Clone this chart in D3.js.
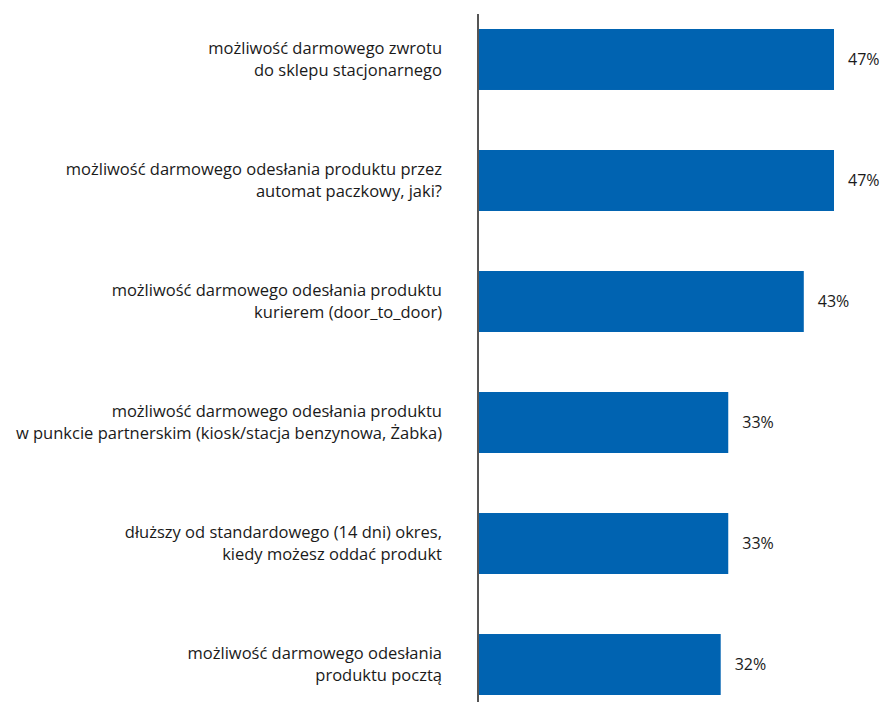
<!DOCTYPE html>
<html><head><meta charset="utf-8">
<script src="https://cdn.jsdelivr.net/npm/d3@7"></script>
<style>body{margin:0;background:#fff}svg{display:block}text{font-family:"Open Sans",sans-serif}</style>
</head><body>
<svg id="c" width="884" height="702"></svg>
<script>
const categories = [
  ["możliwość darmowego zwrotu", "do sklepu stacjonarnego"],
  ["możliwość darmowego odesłania produktu przez", "automat paczkowy, jaki?"],
  ["możliwość darmowego odesłania produktu", "kurierem (door_to_door)"],
  ["możliwość darmowego odesłania produktu", "w punkcie partnerskim (kiosk/stacja benzynowa, Żabka)"],
  ["dłuższy od standardowego (14 dni) okres,", "kiedy możesz oddać produkt"],
  ["możliwość darmowego odesłania", "produktu pocztą"]
];
const values = [47, 47, 43, 33, 33, 32];
const valueLabels = ["47%", "47%", "43%", "33%", "33%", "32%"];

const svg = d3.select("#c");
const x0 = 479;
const x = d3.scaleLinear().domain([0, 47]).range([x0, 834]);
const y = d3.scaleBand().domain(d3.range(values.length)).range([29, 695]).paddingInner(0.496).paddingOuter(0);

svg.selectAll("rect.bar").data(values).join("rect")
  .attr("class", "bar")
  .attr("x", x(0)).attr("y", (d, i) => y(i))
  .attr("width", d => x(d) - x(0)).attr("height", y.bandwidth())
  .attr("fill", "#0063b1");

svg.append("line").attr("x1", 478).attr("x2", 478).attr("y1", 14).attr("y2", 702)
  .attr("stroke", "#555").attr("stroke-width", 2);

svg.selectAll("text.val").data(values).join("text")
  .attr("class", "val")
  .attr("x", d => x(d) + 14).attr("y", (d, i) => y(i) + y.bandwidth() / 2)
  .attr("dy", "0.35em").attr("font-size", 16).attr("fill", "#1a1a1a")
  .text((d, i) => valueLabels[i]);

const lab = svg.selectAll("text.cat").data(categories).join("text")
  .attr("class", "cat").attr("text-anchor", "end")
  .attr("font-size", 16.5).attr("fill", "#1a1a1a");
lab.each(function(lines, i) {
  const cy = y(i) + y.bandwidth() / 2;
  const lh = 22;
  d3.select(this).selectAll("tspan").data(lines).join("tspan")
    .attr("x", 442)
    .attr("y", (l, j) => cy + (j - (lines.length - 1) / 2) * lh)
    .attr("dy", "0.35em")
    .text(l => l);
});
</script>
</body></html>
